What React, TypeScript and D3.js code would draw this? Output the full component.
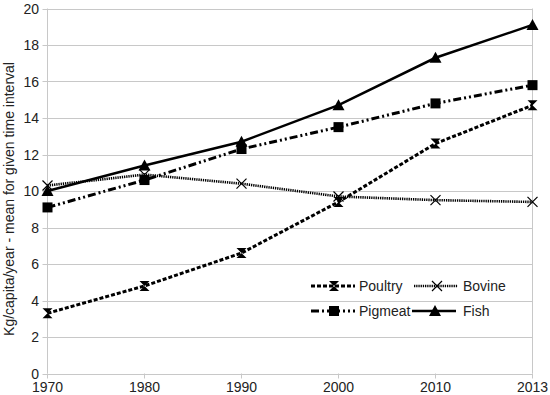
import React from 'react';
import * as d3 from 'd3';

const years = ['1970', '1980', '1990', '2000', '2010', '2013'];
const poultry = [3.3, 4.8, 6.6, 9.4, 12.6, 14.7];
const bovine = [10.3, 10.9, 10.4, 9.7, 9.5, 9.4];
const pigmeat = [9.1, 10.6, 12.3, 13.5, 14.8, 15.8];
const fish = [10.0, 11.4, 12.7, 14.7, 17.3, 19.1];
const yTicks = [0, 2, 4, 6, 8, 10, 12, 14, 16, 18, 20];

type Marker = 'hourglass' | 'cross' | 'square' | 'triangle';

interface Series {
  name: string;
  values: number[];
  dash: string;
  width: number;
  marker: Marker;
}

const series: Series[] = [
  { name: 'Poultry', values: poultry, dash: '4,2', width: 3, marker: 'hourglass' },
  { name: 'Bovine', values: bovine, dash: '1.3,0.9', width: 2.6, marker: 'cross' },
  { name: 'Pigmeat', values: pigmeat, dash: '8,3,2,3,2,3', width: 3, marker: 'square' },
  { name: 'Fish', values: fish, dash: '', width: 2.5, marker: 'triangle' },
];

const W = 550;
const H = 395;
const M = { left: 47.5, right: 532.5, top: 8.5, bottom: 373.5 };
const font = '"Liberation Sans", Arial, sans-serif';

const MarkerShape: React.FC<{ type: Marker; x: number; y: number }> = ({ type, x, y }) => {
  if (type === 'hourglass') {
    return <path d={`M${x - 5},${y - 5}H${x + 5}L${x - 5},${y + 5}H${x + 5}Z`} fill="#000" />;
  }
  if (type === 'cross') {
    return <path d={`M${x - 5},${y - 5}L${x + 5},${y + 5}M${x + 5},${y - 5}L${x - 5},${y + 5}`} stroke="#000" strokeWidth={1.2} fill="none" />;
  }
  if (type === 'square') {
    return <rect x={x - 5} y={y - 5} width={10} height={10} fill="#000" />;
  }
  return <path d={`M${x},${y - 6}L${x + 6},${y + 5}H${x - 6}Z`} fill="#000" />;
};

const App: React.FC = () => {
  const x = d3.scalePoint<string>().domain(years).range([M.left, M.right]);
  const y = d3.scaleLinear().domain([0, 20]).range([M.bottom, M.top]);
  const line = d3.line<number>()
    .x((_, i) => x(years[i]) as number)
    .y(d => y(d));

  // legend slots, two rows of two
  const legendPos = [
    { lx: 311, tx: 359, ty: 286 },
    { lx: 414, tx: 463, ty: 286 },
    { lx: 311, tx: 359, ty: 311 },
    { lx: 412, tx: 463, ty: 311 },
  ];

  return (
    <svg width={W} height={H} style={{ position: 'absolute', left: 0, top: 0 }} fontFamily={font}>
      <rect width={W} height={H} fill="#fff" />
      {yTicks.map(t => (
        <g key={t}>
          <line x1={M.left - 5} x2={M.right} y1={Math.round(y(t)) + 0.5} y2={Math.round(y(t)) + 0.5} stroke="#c8c8c8" />
          <text x={39} y={y(t) + 5} fontSize={14} textAnchor="end" fill="#222">{t}</text>
        </g>
      ))}
      {years.map(yr => (
        <g key={yr}>
          <line x1={x(yr)} x2={x(yr)} y1={M.bottom} y2={M.bottom + 5} stroke="#c8c8c8" />
          <text x={x(yr)} y={392} fontSize={14} textAnchor="middle" fill="#222">{yr}</text>
        </g>
      ))}
      <line x1={M.left} x2={M.left} y1={M.top} y2={M.bottom} stroke="#c8c8c8" />
      <line x1={M.right} x2={M.right} y1={M.top} y2={M.bottom} stroke="#c8c8c8" />
      <text transform={`translate(14,199) rotate(-90)`} fontSize={14} textAnchor="middle" fill="#222">
        Kg/capita/year - mean for given time interval
      </text>
      {series.map(s => (
        <g key={s.name}>
          <path d={line(s.values) || ''} fill="none" stroke="#000" strokeWidth={s.width} strokeDasharray={s.dash || undefined} />
          {s.values.map((v, i) => (
            <MarkerShape key={i} type={s.marker} x={x(years[i]) as number} y={y(v)} />
          ))}
        </g>
      ))}
      {series.map((s, i) => {
        const p = legendPos[i];
        return (
          <g key={s.name}>
            <line x1={p.lx} x2={p.lx + 44} y1={p.ty} y2={p.ty} stroke="#000" strokeWidth={s.width} strokeDasharray={s.dash || undefined} />
            <MarkerShape type={s.marker} x={p.lx + 23} y={p.ty} />
            <text x={p.tx} y={p.ty + 5} fontSize={14} fill="#222">{s.name}</text>
          </g>
        );
      })}
    </svg>
  );
};

export default App;
